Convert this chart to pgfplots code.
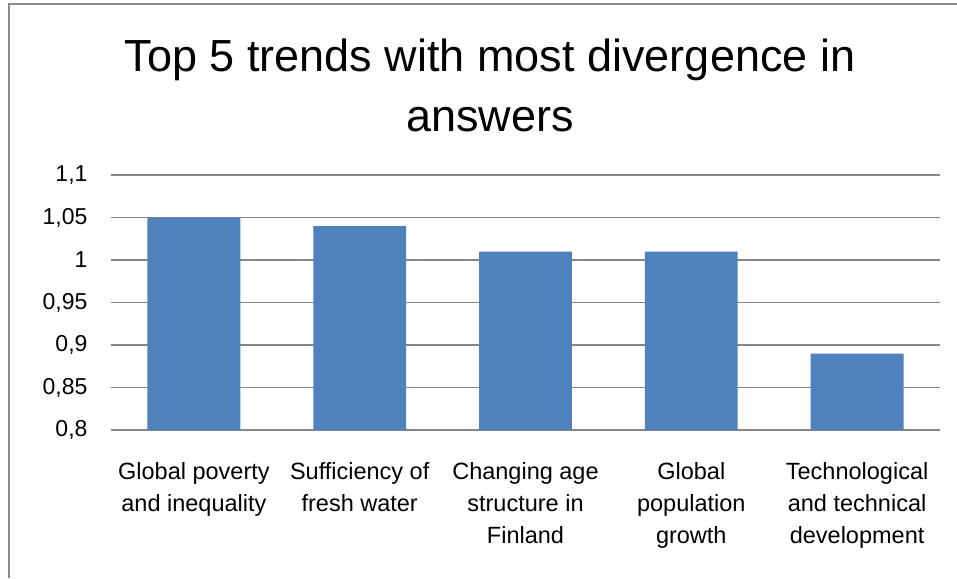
\documentclass[border=0pt]{standalone}
\usepackage{fontspec}
\setmainfont{Liberation Sans}
\usepackage{pgfplots}
\pgfplotsset{compat=1.18}
\definecolor{barblue}{HTML}{4F81BD}
\definecolor{gridgray}{HTML}{868686}
\definecolor{framegray}{HTML}{8C8C8C}
\begin{document}
\begin{tikzpicture}[x=1pt,y=1pt]
\path[use as bounding box] (0,0) rectangle (957,578);
\draw[framegray, line width=2pt] (9,0) -- (9,574) -- (957,574);
\node[anchor=base, font=\fontsize{45}{54}\selectfont] at (490,506) {Top 5 trends with most divergence in};
\node[anchor=base, font=\fontsize{45}{54}\selectfont] at (490,446) {answers};
\begin{axis}[
  at={(111pt,148pt)}, anchor=south west,
  scale only axis, width=829pt, height=255pt,
  xmin=-0.5, xmax=4.5, ymin=0.8, ymax=1.1,
  axis line style={draw=none},
  major tick length=0pt,
  ymajorgrids, grid style={gridgray, line width=1.3pt},
  ytick={0.8,0.85,0.9,0.95,1,1.05,1.1},
  yticklabels={{0,8},{0,85},{0,9},{0,95},{1},{1,05},{1,1}},
  yticklabel style={font=\fontsize{23}{28}\selectfont, xshift=-20pt},
  xtick=data,
  xticklabels={{Global poverty\\and inequality}, {Sufficiency of\\fresh water}, {Changing age\\structure in\\Finland}, {Global\\population\\growth}, {Technological\\and technical\\development}},
  xticklabel style={font=\fontsize{23.5}{32}\selectfont, align=center, yshift=-29pt},
  ybar, bar width=0.56, bar shift=0pt,
  clip=false,
]
\addplot[fill=barblue, draw=none] coordinates {(0,1.05) (1,1.04) (2,1.01) (3,1.01) (4,0.89)};
\end{axis}
\end{tikzpicture}
\end{document}
